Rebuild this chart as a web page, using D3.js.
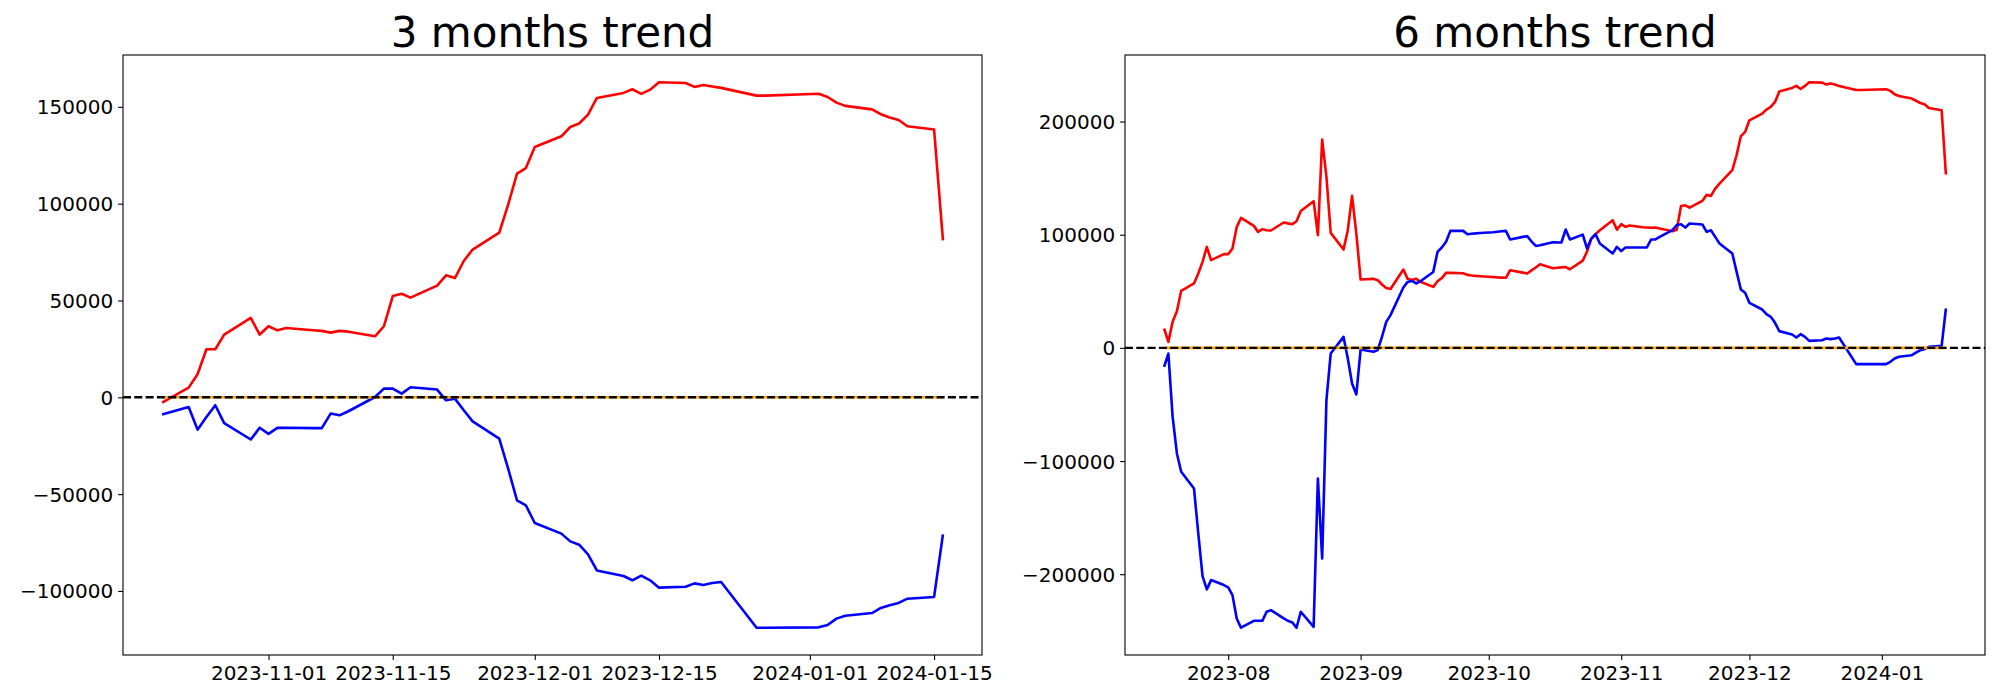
<!DOCTYPE html>
<html><head><meta charset="utf-8">
<script src="https://cdn.jsdelivr.net/npm/d3@7"></script>
<style>body{margin:0;background:#fff}</style>
</head><body>
<svg id="c" width="2000" height="700" xmlns="http://www.w3.org/2000/svg"></svg>
<script>
// ---------- 3 months panel ----------
const dates3 = ["2023-10-20","2023-10-23","2023-10-24","2023-10-25","2023-10-26","2023-10-27","2023-10-30","2023-10-31","2023-11-01","2023-11-02","2023-11-03","2023-11-06","2023-11-07","2023-11-08","2023-11-09","2023-11-10","2023-11-13","2023-11-14","2023-11-15","2023-11-16","2023-11-17","2023-11-20","2023-11-21","2023-11-22","2023-11-23","2023-11-24","2023-11-27","2023-11-28","2023-11-29","2023-11-30","2023-12-01","2023-12-04","2023-12-05","2023-12-06","2023-12-07","2023-12-08","2023-12-11","2023-12-12","2023-12-13","2023-12-14","2023-12-15","2023-12-18","2023-12-19","2023-12-20","2023-12-21","2023-12-22","2023-12-26","2023-12-27","2024-01-02","2024-01-03","2024-01-04","2024-01-05","2024-01-08","2024-01-09","2024-01-10","2024-01-11","2024-01-12","2024-01-15","2024-01-16"];
const red3 = [-2750,5000,11900,24800,24800,32400,41000,32400,36700,34600,35800,34600,34300,33400,34300,33900,31500,36700,52300,53500,51500,57700,63000,61600,70400,76300,85000,99500,115500,118400,129300,134800,139600,141400,146000,154600,157200,159100,156700,158900,162700,162300,160300,161300,160500,159800,155800,155800,156800,155100,152200,150500,148700,146200,144500,143200,140000,138300,81100];
const blue3 = [-8900,-5000,-16700,-10200,-4100,-13300,-21800,-15700,-18900,-15800,-15700,-15900,-15900,-8400,-9300,-7200,150,4500,4500,1900,5200,4000,-1550,-700,-6700,-12400,-21300,-36800,-53200,-55800,-64900,-70400,-74400,-76100,-81100,-89400,-92300,-94500,-92100,-94500,-98300,-97800,-96100,-96900,-95900,-95400,-119000,-119000,-118800,-117600,-114300,-112800,-111400,-108800,-107400,-106200,-104000,-103100,-70800];
const orangeDates3 = ["2023-10-20","2024-01-16"];
const orange3 = [0,0];
const xTicks3 = ["2023-11-01","2023-11-15","2023-12-01","2023-12-15","2024-01-01","2024-01-15"];
const yTicks3 = [-100000,-50000,0,50000,100000,150000];

// ---------- 6 months panel ----------
const dates6 = ["2023-07-17","2023-07-18","2023-07-19","2023-07-20","2023-07-21",
"2023-07-24","2023-07-25","2023-07-26","2023-07-27","2023-07-28",
"2023-07-31","2023-08-01","2023-08-02","2023-08-03","2023-08-04",
"2023-08-07","2023-08-08","2023-08-09","2023-08-10","2023-08-11",
"2023-08-14","2023-08-15","2023-08-16","2023-08-17","2023-08-18",
"2023-08-21","2023-08-22","2023-08-23","2023-08-24","2023-08-25",
"2023-08-28","2023-08-29","2023-08-30","2023-08-31","2023-09-01",
"2023-09-04","2023-09-05","2023-09-06","2023-09-07","2023-09-08",
"2023-09-11","2023-09-12","2023-09-13","2023-09-14","2023-09-15",
"2023-09-18","2023-09-19","2023-09-20","2023-09-21","2023-09-22",
"2023-09-25","2023-09-26","2023-09-27","2023-09-28","2023-09-29",
"2023-10-02","2023-10-03","2023-10-04","2023-10-05","2023-10-06",
"2023-10-09","2023-10-10","2023-10-11","2023-10-12","2023-10-13",
"2023-10-16","2023-10-17","2023-10-18","2023-10-19","2023-10-20",
"2023-10-23","2023-10-24","2023-10-25","2023-10-26","2023-10-27",
"2023-10-30","2023-10-31","2023-11-01","2023-11-02","2023-11-03",
"2023-11-06","2023-11-07","2023-11-08","2023-11-09","2023-11-10",
"2023-11-13","2023-11-14","2023-11-15","2023-11-16","2023-11-17",
"2023-11-20","2023-11-21","2023-11-22","2023-11-23","2023-11-24",
"2023-11-27","2023-11-28","2023-11-29","2023-11-30","2023-12-01",
"2023-12-04","2023-12-05","2023-12-06","2023-12-07","2023-12-08",
"2023-12-11","2023-12-12","2023-12-13","2023-12-14","2023-12-15",
"2023-12-18","2023-12-19","2023-12-20","2023-12-21","2023-12-22",
"2023-12-26","2023-12-27",
"2024-01-02","2024-01-03","2024-01-04","2024-01-05",
"2024-01-08","2024-01-09","2024-01-10","2024-01-11","2024-01-12",
"2024-01-15","2024-01-16"];
const red6 = [17100,5300,23000,32400,50400,
56900,65700,76000,89200,77500,
82800,82800,87800,106900,114800,
107800,102500,104900,104000,103700,
110800,110000,109300,111900,121000,
129600,99600,184100,151100,101600,
86900,104000,134300,101000,60400,
61000,59800,56000,53000,52100,
69200,61000,60000,61000,58400,
53900,58900,61600,66300,66300,
66000,64500,63900,63600,63300,
62600,62300,62100,61900,68600,
66500,65700,68500,71000,73900,
70300,70800,71100,71400,69500,
77100,85100,96600,100500,104000,
112800,104500,109300,107000,108200,
106600,106400,106100,106400,105500,
103100,104400,125400,126000,123900,
129900,135200,134300,140800,145200,
157000,170200,187000,190800,201100,
207000,210600,212900,217300,226500,
229700,231500,228800,231500,234700,
234400,232700,233600,232700,231500,
227900,227900,
228500,227100,224100,222600,
220300,218400,216400,215300,212000,
210000,153200];
const blue6 = [-16800,-5000,-61000,-93300,-109500,
-124200,-163900,-201700,-213400,-205200,
-209600,-211700,-218500,-239100,-247300,
-241200,-241200,-241200,-233200,-231800,
-239100,-241200,-242600,-247300,-233200,
-246500,-115400,-186000,-46200,-5000,
9700,-9400,-31500,-41200,-1500,
-3500,-2000,9700,23000,28900,
53300,58300,59200,56900,58900,
67100,84800,88700,93700,103400,
103400,100400,100800,101200,101500,
102200,102600,103000,103400,95800,
98100,98700,94000,90100,90700,
93400,93200,93100,104600,95800,
100100,87800,96600,100400,92200,
83400,89300,85500,88700,88700,
88700,88700,95800,95800,98100,
104000,108500,109300,106300,109900,
109000,102500,103900,98100,92200,
83400,67400,51600,48700,39800,
33900,29800,27400,22100,14800,
11800,9200,12100,9700,6200,
6800,8300,7700,8300,9200,
-14400,-14400,
-14400,-12300,-9400,-7900,
-6500,-4200,-2000,-1200,900,
1800,34800];
const orangeDates6 = ["2023-07-17","2024-01-16"];
const orange6 = [0,0];
const xTicks6 = ["2023-08-01","2023-09-01","2023-10-01","2023-11-01","2023-12-01","2024-01-01"];
const yTicks6 = [-200000,-100000,0,100000,200000];

const titles = ["3 months trend","6 months trend"];

// ---------- drawing ----------
const svg = d3.select("#c");
svg.append("rect").attr("width",2000).attr("height",700).attr("fill","#fff");
const parse = d3.utcParse("%Y-%m-%d");
const FONT = "DejaVu Sans, sans-serif";
const fmtY = d => d < 0 ? "\u2212" + Math.abs(d) : String(d);

function padDomain(lo, hi){ const p = (hi - lo) * 0.05; return [lo - p, hi + p]; }

function panel(opt){
  const {L, R, T, B, dates, red, blue, oDates, orange, xTicks, xFmt, yTicks, title} = opt;
  const dd = dates.map(parse);
  const od = oDates.map(parse);
  const xe = d3.extent(dd.concat(od));
  const xd = padDomain(+xe[0], +xe[1]);
  const x = d3.scaleUtc().domain([new Date(xd[0]), new Date(xd[1])]).range([L, R]);
  const ye = d3.extent(red.concat(blue).concat(orange));
  const y = d3.scaleLinear().domain(padDomain(ye[0], ye[1])).range([B, T]);
  const g = svg.append("g");

  const line = d3.line().x(d => x(d[0])).y(d => y(d[1]));
  g.append("path").attr("d", line(dd.map((d,i)=>[d, red[i]])))
    .attr("fill","none").attr("stroke","#ff0000").attr("stroke-width",2.6).attr("stroke-linejoin","round");
  g.append("path").attr("d", line(dd.map((d,i)=>[d, blue[i]])))
    .attr("fill","none").attr("stroke","#0000ff").attr("stroke-width",2.6).attr("stroke-linejoin","round");
  g.append("path").attr("d", line(od.map((d,i)=>[d, orange[i]])))
    .attr("fill","none").attr("stroke","#ffa500").attr("stroke-width",2.6);
  g.append("line").attr("x1", L).attr("x2", R).attr("y1", y(0)).attr("y2", y(0))
    .attr("stroke","#000").attr("stroke-width",2.4).attr("stroke-dasharray","8,3.3");

  const xa = g.append("g").attr("transform",`translate(0,${B})`)
    .call(d3.axisBottom(x).tickValues(xTicks.map(parse)).tickFormat(d3.utcFormat(xFmt))
      .tickSize(4.9).tickPadding(4.9).tickSizeOuter(0));
  xa.select(".domain").remove();
  xa.selectAll("line").attr("stroke","#000").attr("stroke-width",1.1);
  xa.selectAll("text").attr("font-family",FONT).attr("font-size",20).attr("fill","#000").attr("dy","0.78em");

  const ya = g.append("g").attr("transform",`translate(${L},0)`)
    .call(d3.axisLeft(y).tickValues(yTicks).tickFormat(fmtY).tickSize(4.9).tickPadding(4.9).tickSizeOuter(0));
  ya.select(".domain").remove();
  ya.selectAll("line").attr("stroke","#000").attr("stroke-width",1.1);
  ya.selectAll("text").attr("font-family",FONT).attr("font-size",20).attr("fill","#000").attr("dy","0.35em");

  g.append("rect").attr("x",L).attr("y",T).attr("width",R-L).attr("height",B-T)
    .attr("fill","none").attr("stroke","#000").attr("stroke-width",1.1);

  g.append("text").attr("x",(L+R)/2).attr("y",T-8.3).attr("text-anchor","middle")
    .attr("font-family",FONT).attr("font-size",42).attr("fill","#000").text(title);
}

panel({L:123, R:982, T:55, B:655, dates:dates3, red:red3, blue:blue3, oDates:orangeDates3, orange:orange3,
  xTicks:xTicks3, xFmt:"%Y-%m-%d", yTicks:yTicks3, title:titles[0]});
panel({L:1125, R:1985, T:55, B:655, dates:dates6, red:red6, blue:blue6, oDates:orangeDates6, orange:orange6,
  xTicks:xTicks6, xFmt:"%Y-%m", yTicks:yTicks6, title:titles[1]});
</script>
</body></html>
